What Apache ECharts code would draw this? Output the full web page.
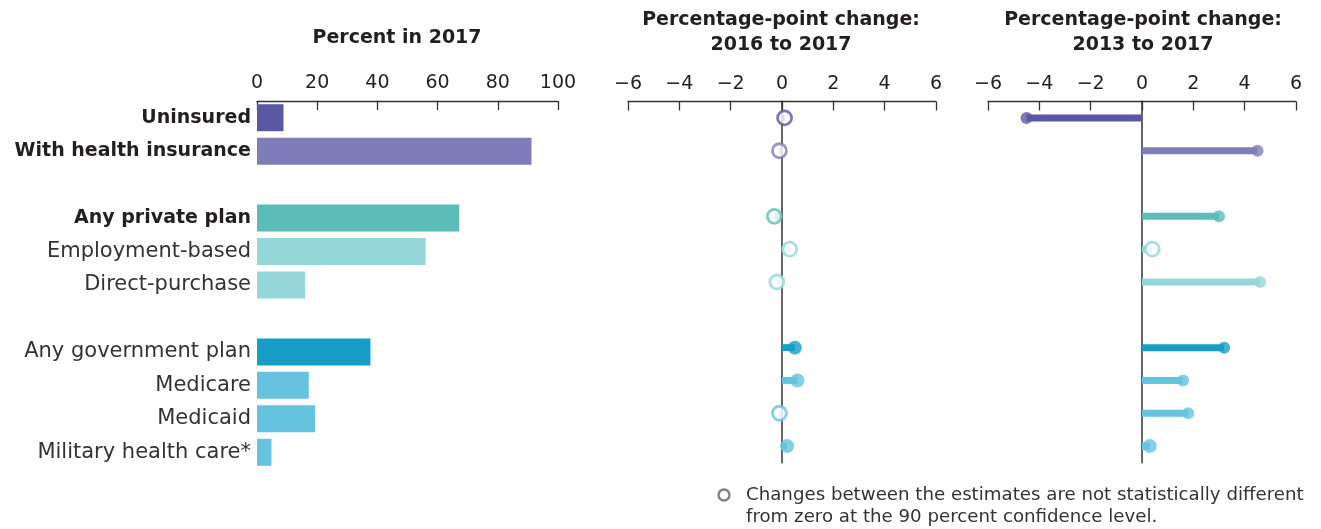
<!DOCTYPE html>
<html><head><meta charset="utf-8">
<script src="https://cdn.jsdelivr.net/npm/echarts@6/dist/echarts.min.js"></script>
<style>html,body{margin:0;padding:0;background:#fff}#c{width:1321px;height:529px}</style>
</head><body><div id="c"></div>
<script>
const categories = ['Uninsured','With health insurance',' ','Any private plan','Employment-based','Direct-purchase','  ','Any government plan','Medicare','Medicaid','Military health care*'];
const boldRows = ['Uninsured','With health insurance','Any private plan'];
const rowColors = ['#5b57a2','#7f7db8',null,'#5bbcb8','#95d6d8','#95d6d8',null,'#179ec6','#66c3df','#66c3df','#66c3df'];
const percent2017 = [8.8, 91.2, null, 67.2, 56.0, 16.0, null, 37.7, 17.2, 19.3, 4.8];
const change2016to2017 = [0.1, -0.1, null, -0.3, 0.3, -0.2, null, 0.5, 0.6, -0.1, 0.2];
const significant2016to2017 = [0, 0, null, 0, 0, 0, null, 1, 1, 0, 1];
const change2013to2017 = [-4.5, 4.5, null, 3.0, 0.4, 4.6, null, 3.2, 1.6, 1.8, 0.3];
const significant2013to2017 = [1, 1, null, 1, 0, 1, null, 1, 1, 1, 1];
const percentTicks = {min: 0, max: 100, interval: 20};
const changeTicks = {min: -6, max: 6, interval: 2};

const FONT = 'DejaVu Sans';
const TXT = '#231f20';
const chart = echarts.init(document.getElementById('c'));

const grids = [
  {left: 257, width: 301, top: 101, height: 368},
  {left: 628, width: 308, top: 101.5, height: 361},
  {left: 988, width: 308, top: 101.5, height: 361}
];

function xAxisFor(i, t) {
  return {
    type: 'value', gridIndex: i, position: 'top', min: t.min, max: t.max, interval: t.interval,
    splitLine: {show: false},
    axisLine: {show: true, lineStyle: {color: '#333', width: 1.3}},
    axisTick: {show: true, inside: true, length: 9, lineStyle: {color: '#333', width: 1.3}},
    axisLabel: {color: TXT, fontFamily: FONT, fontSize: 19, margin: 8,
      formatter: v => v < 0 ? '\u2212' + Math.abs(v) : String(v)}
  };
}
function yAxisFor(i, showLabels) {
  return {
    type: 'category', gridIndex: i, data: categories, inverse: true,
    axisTick: {show: false},
    axisLine: {show: !showLabels, onZero: true, lineStyle: {color: '#666', width: 2}},
    axisLabel: showLabels ? {
      show: true, margin: 6, fontFamily: FONT, fontSize: 19, color: TXT,
      formatter: v => v.trim() === '' ? '' : (boldRows.includes(v) ? '{b|' + v + '}' : '{n|' + v + '}'),
      rich: {b: {fontWeight: 'bold', fontFamily: FONT, fontSize: 19, color: TXT},
             n: {fontWeight: 'normal', fontFamily: FONT, fontSize: 21, color: '#333'}}
    } : {show: false}
  };
}

function barData(vals) {
  return vals.map((v, i) => v === null ? '-' : {value: v, itemStyle: {color: rowColors[i]}});
}
function dotData(vals, sig) {
  const out = [];
  vals.forEach((v, i) => {
    if (v === null) return;
    out.push({value: [v, i], symbolSize: Math.abs(v) < 1 ? 14 : 12, itemStyle: sig[i]
      ? {color: rowColors[i], borderColor: rowColors[i], borderWidth: 0}
      : {color: '#fff', borderColor: rowColors[i], borderWidth: 2.8}});
  });
  return out;
}

const titleStyle = {fontFamily: FONT, fontSize: 19, fontWeight: 'bold', color: TXT, lineHeight: 25};
const option = {
  animation: false,
  grid: grids,
  title: [
    {text: 'Percent in 2017', left: 392, top: 21, textAlign: 'center', textStyle: titleStyle},
    {text: 'Percentage-point change:\n2016 to 2017', left: 776, top: 3, textAlign: 'center', textStyle: titleStyle},
    {text: 'Percentage-point change:\n2013 to 2017', left: 1138, top: 3, textAlign: 'center', textStyle: titleStyle}
  ],
  xAxis: [xAxisFor(0, percentTicks), xAxisFor(1, changeTicks), xAxisFor(2, changeTicks)],
  yAxis: [yAxisFor(0, true), yAxisFor(1, false), yAxisFor(2, false)],
  series: [
    {type: 'bar', xAxisIndex: 0, yAxisIndex: 0, barWidth: 27, data: barData(percent2017)},
    {type: 'bar', xAxisIndex: 1, yAxisIndex: 1, barWidth: 7, data: barData(change2016to2017)},
    {type: 'scatter', xAxisIndex: 1, yAxisIndex: 1, symbol: 'circle', z: 5,
     data: dotData(change2016to2017, significant2016to2017)},
    {type: 'bar', xAxisIndex: 2, yAxisIndex: 2, barWidth: 7, data: barData(change2013to2017)},
    {type: 'scatter', xAxisIndex: 2, yAxisIndex: 2, symbol: 'circle', z: 5,
     data: dotData(change2013to2017, significant2013to2017)}
  ],
  graphic: [
    {type: 'circle', shape: {cx: 724, cy: 495, r: 5.5}, style: {fill: '#fff', stroke: '#808080', lineWidth: 2.4}},
    {type: 'text', left: 746, top: 484, style: {
      text: 'Changes between the estimates are not statistically different\nfrom zero at the 90 percent confidence level.',
      fontFamily: FONT, fontSize: 18.2, lineHeight: 22, fill: '#333'}}
  ]
};
chart.setOption(option);
</script></body></html>
